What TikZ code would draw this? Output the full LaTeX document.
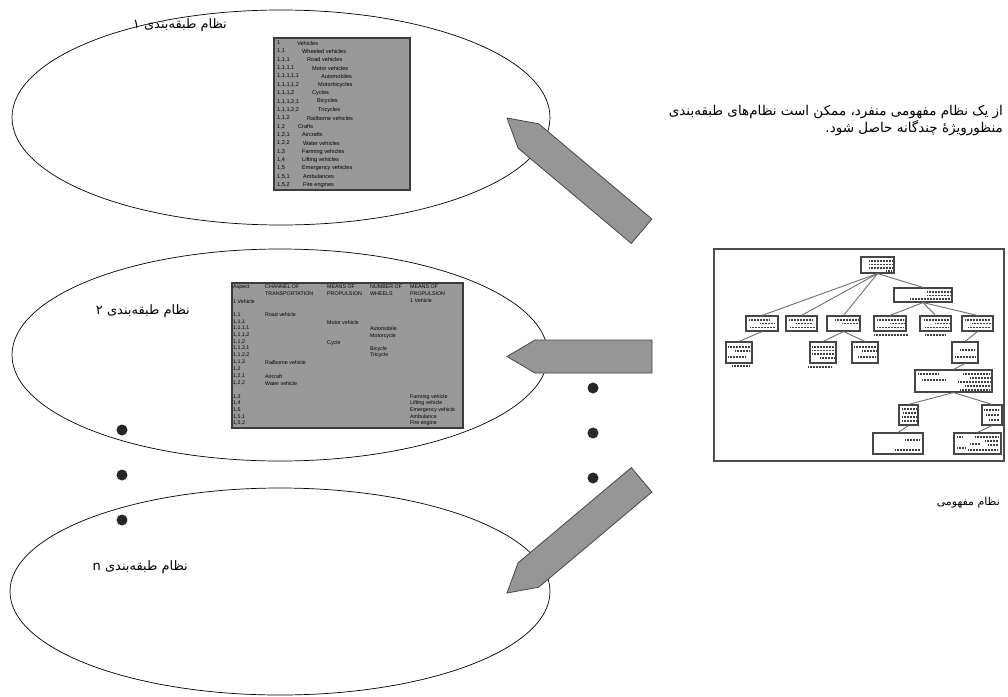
\documentclass[tikz,border=0pt]{standalone}
\usepackage{fontspec}
\setmainfont{Liberation Sans}
\newfontfamily\fa[Script=Arabic]{DejaVu Sans}
\TeXXeTstate=1
\usetikzlibrary{shapes.geometric}
\definecolor{boxgray}{RGB}{153,153,153}
\definecolor{boxedge}{RGB}{60,60,60}
\definecolor{arrgray}{RGB}{150,150,150}
\definecolor{arredge}{RGB}{70,70,70}
\definecolor{treeedge}{RGB}{110,110,110}
\definecolor{treeline}{RGB}{70,70,70}
\newcommand\smallA{\fontsize{5.6}{6.5}\selectfont}
\newcommand\smallB{\fontsize{5.3}{6}\selectfont}
\begin{document}
\begin{tikzpicture}[x=1pt,y=-1pt,
  ell/.style={ellipse,draw=black,line width=0.7pt,inner sep=0pt},
  gbox/.style={draw=boxedge,fill=boxgray,line width=1.2pt,inner sep=0pt,minimum width=#1},
  tA/.style={anchor=west,inner sep=0pt,font=\smallA},
  tB/.style={anchor=west,inner sep=0pt,font=\smallB},
  falabel/.style={anchor=east,inner sep=0pt,font=\fa\fontsize{13}{15}\selectfont},
  fatext/.style={anchor=base east,inner sep=0pt,font=\fa\fontsize{13.5}{15}\selectfont},
  facl/.style={anchor=east,inner sep=0pt,font=\fa\fontsize{11}{13}\selectfont},
  blockarrow/.style={fill=arrgray,draw=arredge,line width=0.8pt,line join=miter},
  dotc/.style={circle,fill=black!85,minimum size=11pt,inner sep=0pt},
  tnode/.style={draw=treeline,fill=white,line width=1.1pt,inner sep=0pt},
  tedge/.style={draw=treeedge,line width=0.9pt},
  dotrow/.style={draw=black!75,line width=1.3pt,dash pattern=on 0.7pt off 0.8pt},
  frame/.style={draw=black!70,line width=1.1pt}
]
\useasboundingbox (0,0) rectangle (1008,696);

% ellipses
\node[ell,minimum width=538pt,minimum height=215pt] (e1) at (281,117.5) {};
\node[ell,minimum width=536pt,minimum height=212pt] (e2) at (280,355) {};
\node[ell,minimum width=540pt,minimum height=207pt] (e3) at (280,591.5) {};

% labels
\node[falabel] (l1) at (227,25) {\beginR نظام طبقه‌بندی ۱\endR};
\node[falabel] (l2) at (190,311) {\beginR نظام طبقه‌بندی ۲\endR};
\node[falabel] (l3) at (188,567) {\beginR نظام طبقه‌بندی n\endR};

% gray box 1
\node[gbox=136pt,minimum height=152pt] (b1) at (342,114) {};
\foreach \y/\n/\x/\t [count=\i] in {
  43/{1}/297/{Vehicles},
  51.35/{1,1}/302/{Wheeled vehicles},
  59.7/{1,1,1}/307/{Road vehicles},
  68.05/{1,1,1,1}/312/{Motor vehicles},
  76.4/{1,1,1,1,1}/321/{Automobiles},
  84.75/{1,1,1,1,2}/318/{Motorbicycles},
  93.1/{1,1,1,2}/312/{Cycles},
  101.45/{1,1,1,2,1}/317/{Bicycles},
  109.8/{1,1,1,2,2}/318/{Tricycles},
  118.15/{1,1,2}/307/{Railborne vehicles},
  126.5/{1,2}/298/{Crafts},
  134.85/{1,2,1}/302/{Aircrafts},
  143.2/{1,2,2}/303/{Water vehicles},
  151.55/{1,3}/302/{Farming vehicles},
  159.9/{1,4}/302/{Lifting vehicles},
  168.25/{1,5}/302/{Emergency vehicles},
  176.6/{1,5,1}/303/{Ambulances},
  184.95/{1,5,2}/303/{Fire engines}}
{
  \node[tA] (b1n\i) at (277,\y) {\n};
  \node[tA] (b1t\i) at (\x,\y) {\t};
}

% gray box 2
\node[gbox=231pt,minimum height=145pt] (b2) at (347.5,355.5) {};
\foreach \x/\y/\t [count=\i] in {
  233/287/{Aspect}, 265/287/{CHANNEL OF}, 327/287/{MEANS OF}, 370/287/{NUMBER OF}, 410/287/{MEANS OF},
  265/294/{TRANSPORTATION}, 327/294/{PROPULSION}, 370/294/{WHEELS}, 410/294/{PROPULSION},
  233/302/{1 Vehicle}, 410/301/{1 Vehicle},
  233/315/{1,1}, 265/315/{Road vehicle},
  233/322/{1,1,1}, 327/323/{Motor vehicle},
  233/328/{1,1,1,1}, 370/329/{Automobile},
  233/335/{1,1,1,2}, 370/336/{Motorcycle},
  233/342/{1,1,2}, 327/343/{Cycle},
  233/348/{1,1,2,1}, 370/349/{Bicycle},
  233/355/{1,1,2,2}, 370/355.5/{Tricycle},
  233/362/{1,1,3}, 265/363/{Railborne vehicle},
  233/369/{1,2},
  233/376/{1,2,1}, 265/377/{Aircraft},
  233/383/{1,2,2}, 265/383.5/{Water vehicle},
  233/397/{1,3}, 410/397/{Farming vehicle},
  233/403/{1,4}, 410/403.5/{Lifting vehicle},
  233/410/{1,5}, 410/410/{Emergency vehicle},
  233/417/{1,5,1}, 410/417/{Ambulance},
  233/423/{1,5,2}, 410/423/{Fire engine}}
{
  \node[tB] (b2t\i) at (\x,\y) {\t};
}

% block arrows
\draw[blockarrow] (507,118) -- (538.7,123.8) -- (651.9,219.0) -- (631.3,243.4) -- (518.1,148.2) -- cycle;
\draw[blockarrow] (507,356.5) -- (535,340) -- (652,340) -- (652,373) -- (535,373) -- cycle;
\draw[blockarrow] (507,593) -- (518.1,562.8) -- (631.3,467.6) -- (651.9,492.0) -- (538.7,587.2) -- cycle;

% dots
\node[dotc] (dl1) at (122,430) {};
\node[dotc] (dl2) at (122,475) {};
\node[dotc] (dl3) at (122,520) {};
\node[dotc] (dr1) at (593,388) {};
\node[dotc] (dr2) at (593,433) {};
\node[dotc] (dr3) at (593,478) {};

% right text
\node[fatext] (rt1) at (1003,115.5) {\beginR از یک نظام مفهومی منفرد، ممکن است نظام‌های طبقه‌بندی\endR};
\node[fatext] (rt2) at (1003,132) {\beginR منظورویژهٔ چندگانه حاصل شود.\endR};
\node[facl] (cl) at (1000,503) {\beginR نظام مفهومی\endR};

% concept frame
\node[frame,minimum width=290pt,minimum height=212pt,inner sep=0pt] (cf) at (859,355) {};

% tree nodes
\node[tnode,minimum width=33pt,minimum height=16pt] (root) at (877.5,265) {};
\node[tnode,minimum width=58pt,minimum height=14pt] (A) at (923,295) {};
\node[tnode,minimum width=32pt,minimum height=15pt] (L1) at (762,323.5) {};
\node[tnode,minimum width=31pt,minimum height=15pt] (L2) at (801.5,323.5) {};
\node[tnode,minimum width=33pt,minimum height=15pt] (L3) at (843.5,323.5) {};
\node[tnode,minimum width=32pt,minimum height=15pt] (R1) at (890,323.5) {};
\node[tnode,minimum width=31pt,minimum height=15pt] (R2) at (935.5,323.5) {};
\node[tnode,minimum width=31pt,minimum height=15pt] (R3) at (977.5,323.5) {};
\node[tnode,minimum width=26pt,minimum height=21pt] (L1c) at (739,352.5) {};
\node[tnode,minimum width=26pt,minimum height=21pt] (L3a) at (823,352.5) {};
\node[tnode,minimum width=26pt,minimum height=21pt] (L3b) at (865,352.5) {};
\node[tnode,minimum width=26pt,minimum height=21pt] (R3c) at (965,352.5) {};
\node[tnode,minimum width=77pt,minimum height=22pt] (Big) at (953.5,381) {};
\node[tnode,minimum width=19pt,minimum height=20pt] (B1) at (908.5,415) {};
\node[tnode,minimum width=20pt,minimum height=20pt] (B2) at (992,415) {};
\node[tnode,minimum width=50pt,minimum height=21pt] (Lf1) at (898,443.5) {};
\node[tnode,minimum width=47pt,minimum height=21pt] (Lf2) at (977.5,443.5) {};

% tree edges
\draw[tedge] (root.south) -- (L1.north);
\draw[tedge] (root.south) -- (L2.north);
\draw[tedge] (root.south) -- (L3.north);
\draw[tedge] (root.south) -- (A.north);
\draw[tedge] (A.south) -- (R1.north);
\draw[tedge] (A.south) -- (R2.north);
\draw[tedge] (A.south) -- (R3.north);
\draw[tedge] (L1.south) -- (L1c.north);
\draw[tedge] (L3.south) -- (L3a.north);
\draw[tedge] (L3.south) -- (L3b.north);
\draw[tedge] (R3.south) -- (R3c.north);
\draw[tedge] (R3c.south) -- (Big.north);
\draw[tedge] (Big.south) -- (B1.north);
\draw[tedge] (Big.south) -- (B2.north);
\draw[tedge] (B1.south) -- (Lf1.north);
\draw[tedge] (B2.south) -- (Lf2.north);

% dotted placeholder text in tree boxes
\foreach \a/\b/\c in {
  869/892/261, 869/892/264.5, 869/892/268, 886/892/271,
  927/950/292, 927/950/295.5, 910/950/299,
  749/770/320, 760/775/323.5, 750/775/327.5,
  789/812/320, 796/812/323.5, 790/815/327.5,
  835/858/320, 842/858/323.5,
  877/904/320, 890/904/323.5, 877/903/327.5, 874/908/335,
  924/949/320, 935/949/323.5, 925/949/327.5, 925/945/335,
  965/990/320, 972/991/323.5, 968/990/327.5,
  728/750/347, 735/750/351, 728/746/357, 732/750/366,
  812/834/347, 812/834/350.5, 812/834/354, 820/834/358, 808/832/367,
  854/876/347, 862/876/351, 858/876/357,
  960/975/350, 955/975/357,
  918/938/374, 922/946/380, 963/990/374, 970/990/378, 958/990/382, 965/990/386, 960/990/390,
  902/916/409, 903/916/413, 902/916/417, 902/916/421,
  984/999/410, 986/999/415, 989/999/420,
  905/920/440, 895/920/450,
  957/962/437, 975/998/437, 985/998/441, 970/980/444, 988/998/445, 957/965/448, 968/998/450}
{ \draw[dotrow] (\a,\c) -- (\b,\c); }
\end{tikzpicture}
\end{document}
